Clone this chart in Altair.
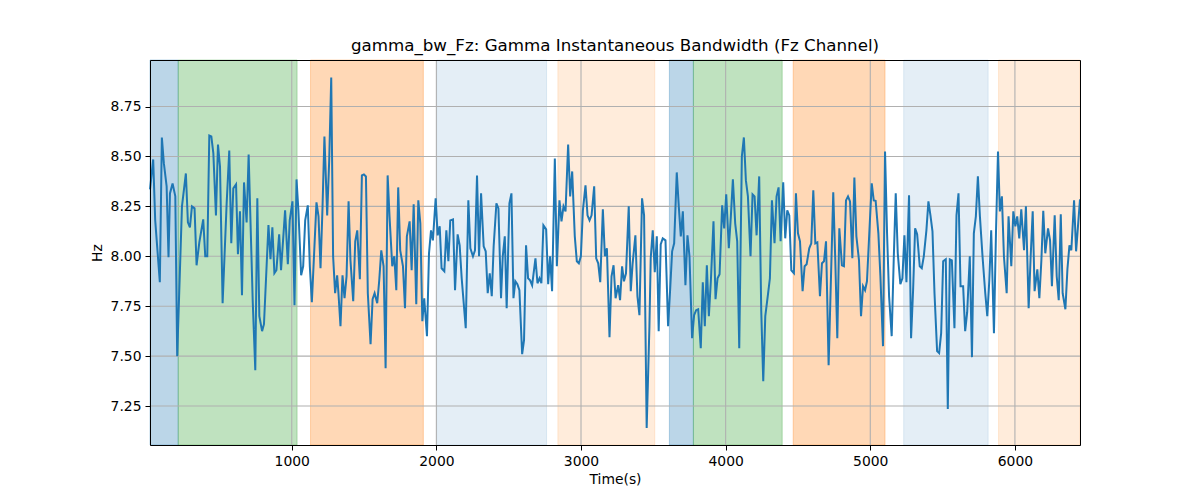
import altair as alt
import pandas as pd

TITLE = "gamma_bw_Fz: Gamma Instantaneous Bandwidth (Fz Channel)"

# (time in s, bandwidth in Hz), in eight stretches
seg_a = [(20, 8.335), (42, 8.485), (56, 8.18), (88, 7.87), (102, 8.595), (116, 8.465), (135, 8.35),
         (148, 7.995), (158, 8.315), (176, 8.365), (195, 8.30), (208, 7.50), (241, 8.25), (268, 8.415),
         (282, 8.17), (296, 8.145), (310, 8.25), (328, 8.24), (342, 7.955), (361, 8.07), (388, 8.185),
         (402, 8.0), (416, 8.0), (430, 8.605), (444, 8.60), (458, 8.515), (476, 8.205), (490, 8.56),
         (504, 8.45), (522, 7.765), (550, 8.265), (568, 8.53), (582, 8.065), (596, 8.34), (615, 8.36),
         (628, 8.01), (642, 8.225), (656, 7.805), (670, 8.37), (688, 8.17), (702, 8.51), (730, 7.78),
         (748, 7.43), (762, 8.29), (776, 7.70), (795, 7.625), (808, 7.66)]
seg_b = [(839, 8.157), (853, 7.985), (866, 8.145), (880, 7.915), (894, 7.93), (913, 8.11), (926, 7.93),
         (940, 8.08), (954, 8.23), (973, 7.96), (986, 8.18), (1005, 8.275), (1019, 7.755), (1033, 8.385),
         (1046, 8.23), (1065, 7.905), (1079, 7.95), (1093, 8.18), (1111, 8.255), (1125, 7.95), (1139, 7.77),
         (1157, 8.05), (1171, 8.27), (1185, 8.20), (1199, 7.94), (1213, 8.25), (1226, 8.60), (1245, 8.205),
         (1259, 8.48), (1273, 8.895), (1286, 8.0), (1300, 7.815), (1314, 7.905), (1323, 7.815), (1337, 7.65),
         (1351, 7.905), (1365, 7.79), (1379, 7.90), (1393, 8.275), (1406, 7.98), (1425, 7.775), (1439, 8.075),
         (1453, 8.13), (1471, 7.885), (1485, 8.405), (1499, 8.41), (1513, 8.40), (1526, 7.815), (1545, 7.56),
         (1559, 7.785), (1573, 7.815), (1591, 7.765), (1605, 7.88), (1619, 8.03)]
seg_c = [(1635, 7.95), (1649, 7.44), (1663, 8.405), (1676, 8.20), (1695, 7.95), (1709, 8.0), (1723, 7.83),
         (1736, 8.345), (1750, 8.03), (1769, 7.95), (1783, 7.74), (1796, 8.10), (1815, 8.175), (1829, 7.93),
         (1843, 8.26), (1861, 7.76), (1875, 8.28), (1889, 8.165), (1903, 7.675), (1916, 7.79), (1935, 7.60),
         (1949, 8.015), (1963, 8.13), (1976, 8.08), (1995, 8.29), (2009, 8.105), (2023, 8.15), (2036, 7.94),
         (2055, 7.925), (2069, 8.13), (2083, 7.975), (2096, 8.18), (2115, 8.185), (2129, 7.83), (2147, 8.11),
         (2161, 8.055), (2175, 7.89), (2203, 7.64), (2221, 8.28), (2235, 8.04), (2253, 8.0), (2267, 8.03),
         (2281, 8.405), (2295, 8.0), (2309, 8.315), (2327, 8.05), (2341, 8.025), (2355, 7.815), (2369, 7.915),
         (2383, 7.80), (2396, 8.05), (2415, 8.265), (2429, 8.24), (2447, 7.79)]
seg_d = [(2459, 8.0), (2473, 8.10), (2486, 7.74), (2505, 8.265), (2519, 8.315), (2533, 7.79), (2546, 7.875),
         (2560, 7.86), (2574, 7.83), (2593, 7.51), (2606, 7.58), (2620, 8.055), (2634, 7.89), (2648, 7.88),
         (2662, 7.855), (2685, 7.99), (2699, 7.865), (2713, 7.89), (2726, 7.865), (2740, 8.155), (2759, 8.135),
         (2773, 7.86), (2786, 8.0), (2800, 7.825), (2819, 8.49), (2833, 7.95), (2851, 8.28), (2865, 8.175),
         (2879, 8.25), (2893, 8.225), (2911, 8.56), (2925, 8.30), (2939, 8.425), (2957, 8.10), (2971, 7.975),
         (2985, 7.965), (2999, 8.0), (3013, 8.23), (3031, 8.355), (3045, 8.205), (3059, 8.18), (3073, 8.205),
         (3091, 8.35), (3105, 7.99), (3119, 7.965), (3133, 7.87), (3151, 8.235), (3165, 8.0), (3179, 8.04),
         (3197, 7.595), (3211, 7.90), (3225, 7.955), (3239, 7.79), (3257, 7.855)]
seg_e = [(3270, 7.78), (3284, 7.95), (3297, 7.875), (3311, 7.915), (3330, 8.25), (3344, 7.825), (3357, 7.965),
         (3376, 8.105), (3390, 7.80), (3404, 7.705), (3422, 8.29), (3436, 8.205), (3454, 7.14), (3473, 7.65),
         (3482, 7.99), (3496, 8.13), (3510, 7.92), (3524, 8.10), (3537, 7.625), (3551, 8.06), (3565, 8.09),
         (3584, 8.08), (3602, 7.65), (3616, 7.83), (3630, 8.025), (3644, 8.065), (3662, 8.42), (3676, 8.25),
         (3690, 8.10), (3704, 8.225), (3722, 7.855), (3736, 8.105), (3750, 8.0), (3768, 7.59), (3782, 7.705),
         (3796, 7.73), (3810, 7.735), (3828, 7.54), (3842, 7.87), (3856, 7.65), (3870, 7.955), (3884, 7.70),
         (3898, 7.88), (3916, 8.175), (3930, 7.785), (3944, 7.89), (3958, 7.91), (3976, 8.255), (3990, 8.14),
         (4004, 8.31), (4022, 8.04), (4036, 8.20), (4050, 8.385), (4066, 8.165)]
seg_f = [(4080, 8.075), (4094, 7.54), (4112, 8.50), (4126, 8.595), (4140, 8.38), (4154, 8.30), (4172, 8.0),
         (4186, 8.31), (4200, 8.30), (4214, 8.105), (4232, 8.40), (4246, 7.73), (4260, 7.375), (4274, 7.70),
         (4292, 7.805), (4306, 7.89), (4320, 8.28), (4338, 8.065), (4352, 8.30), (4366, 8.345), (4380, 8.075),
         (4398, 8.37), (4412, 8.09), (4426, 8.23), (4440, 8.205), (4454, 7.93), (4472, 7.915), (4486, 8.315),
         (4500, 8.115), (4514, 8.075), (4532, 7.825), (4546, 7.95), (4560, 7.96), (4578, 8.04), (4592, 8.065),
         (4606, 8.33), (4620, 8.065), (4634, 8.07), (4652, 7.80), (4666, 7.965), (4680, 7.975), (4694, 8.075),
         (4712, 7.455), (4744, 8.32), (4758, 7.98), (4772, 7.59), (4786, 8.14), (4804, 7.955), (4818, 7.95),
         (4832, 8.28), (4846, 8.30), (4860, 8.275)]
seg_g = [(4876, 7.99), (4890, 8.395), (4904, 8.10), (4922, 7.98), (4936, 7.70), (4950, 7.85), (4964, 7.83),
         (4977, 7.875), (5010, 8.365), (5024, 8.28), (5037, 8.278), (5056, 8.115), (5070, 7.90), (5088, 7.55),
         (5102, 8.525), (5116, 8.115), (5130, 7.80), (5148, 7.60), (5162, 7.98), (5176, 8.315), (5190, 8.015),
         (5208, 7.86), (5222, 7.89), (5236, 8.105), (5250, 7.87), (5268, 8.305), (5282, 7.59), (5296, 7.83),
         (5310, 8.14), (5324, 8.11), (5342, 7.95), (5356, 7.94), (5370, 8.0), (5388, 8.13), (5402, 8.275),
         (5416, 8.205), (5430, 8.125), (5444, 7.815), (5462, 7.525), (5476, 7.515), (5490, 7.615), (5504, 7.975),
         (5522, 7.985), (5536, 7.235), (5550, 7.985), (5564, 7.98), (5582, 7.64), (5596, 8.205), (5610, 8.315),
         (5624, 7.85), (5642, 7.85), (5656, 7.625), (5670, 7.72), (5688, 8.0)]
seg_h = [(5703, 7.495), (5716, 8.115), (5730, 8.20), (5744, 8.40), (5758, 8.20), (5776, 8.0), (5795, 7.815),
         (5809, 7.70), (5823, 7.88), (5836, 8.13), (5855, 7.615), (5869, 8.115), (5883, 8.525), (5896, 8.225),
         (5910, 8.30), (5924, 8.0), (5943, 7.815), (5956, 8.20), (5975, 7.95), (5989, 8.225), (6003, 8.15),
         (6016, 8.20), (6030, 8.09), (6044, 8.235), (6063, 8.03), (6076, 8.25), (6095, 7.74), (6109, 8.0),
         (6123, 8.225), (6136, 7.825), (6155, 7.935), (6169, 7.79), (6183, 7.98), (6196, 8.228), (6210, 8.015),
         (6229, 8.14), (6243, 8.08), (6256, 7.85), (6275, 8.205), (6289, 7.90), (6303, 7.78), (6317, 8.21),
         (6330, 7.815), (6349, 7.735), (6363, 7.935), (6377, 8.055), (6390, 8.03), (6409, 8.28), (6423, 8.025),
         (6450, 8.285)]

# shaded state intervals
band_start = [20, 215, 1130, 2002, 2840, 3611, 3777, 4467, 5231, 5887]
band_end = [215, 1037, 1910, 2762, 3510, 3777, 4391, 5102, 5815, 6450]
band_color = ["#1f77b4", "#2ca02c", "#ff7f0e", "#1f77b4", "#ff7f0e",
              "#1f77b4", "#2ca02c", "#ff7f0e", "#1f77b4", "#ff7f0e"]
band_alpha = [0.3, 0.3, 0.3, 0.12, 0.15, 0.3, 0.3, 0.3, 0.12, 0.15]

x_ticks = [1000, 2000, 3000, 4000, 5000, 6000]
y_ticks = [7.25, 7.50, 7.75, 8.00, 8.25, 8.50, 8.75]
x_domain = [20, 6450]
y_domain = [7.055, 8.983]

points = seg_a + seg_b + seg_c + seg_d + seg_e + seg_f + seg_g + seg_h
line_df = pd.DataFrame(points, columns=["t", "hz"])
band_df = pd.DataFrame({"t": band_start, "t2": band_end, "c": band_color, "a": band_alpha})
xgrid_df = pd.DataFrame({"t": x_ticks})
ygrid_df = pd.DataFrame({"hz": y_ticks})
frame_df = pd.DataFrame({"t": x_domain, "hz": y_domain})

FONT = "DejaVu Sans"
xscale = alt.Scale(domain=x_domain, nice=False, zero=False)
yscale = alt.Scale(domain=y_domain, nice=False, zero=False)
common_axis = dict(grid=False, tickSize=5, tickColor="black", tickWidth=1,
                   domainColor="black", domainWidth=1,
                   labelFont=FONT, labelFontSize=13.9, labelColor="black",
                   titleFont=FONT, titleFontSize=13.9, titleFontWeight="normal",
                   titleColor="black", labelPadding=4, zindex=1, labelFlush=False)
x_axis = alt.Axis(values=x_ticks, title="Time(s)", format="d", titlePadding=5, **common_axis)
y_axis = alt.Axis(values=y_ticks, title="Hz", format=".2f", titlePadding=6, **common_axis)
frame_axis = dict(grid=False, labels=False, ticks=False, title=None,
                  domainColor="black", domainWidth=1, zindex=1)
top_axis = alt.Axis(orient="top", **frame_axis)
right_axis = alt.Axis(orient="right", **frame_axis)

bands = alt.Chart(band_df).mark_rect(strokeWidth=1).encode(
    x=alt.X("t:Q", scale=xscale, axis=None), x2="t2:Q",
    color=alt.Color("c:N", scale=None),
    stroke=alt.Stroke("c:N", scale=None),
    fillOpacity=alt.FillOpacity("a:Q", scale=None),
    strokeOpacity=alt.StrokeOpacity("a:Q", scale=None),
)
vgrid = alt.Chart(xgrid_df).mark_rule(color="#b0b0b0", strokeWidth=1.1).encode(
    x=alt.X("t:Q", scale=xscale, axis=None))
hgrid = alt.Chart(ygrid_df).mark_rule(color="#b0b0b0", strokeWidth=1.1).encode(
    y=alt.Y("hz:Q", scale=yscale, axis=None))
line = alt.Chart(line_df).mark_line(color="#1f77b4", strokeWidth=2).encode(
    x=alt.X("t:Q", scale=xscale, axis=x_axis),
    y=alt.Y("hz:Q", scale=yscale, axis=y_axis))
frame = alt.Chart(frame_df).mark_point(opacity=0).encode(
    x=alt.X("t:Q", scale=xscale, axis=top_axis),
    y=alt.Y("hz:Q", scale=yscale, axis=right_axis))

chart = alt.layer(bands, vgrid, hgrid, line, frame).resolve_axis(
    x="independent", y="independent"
).properties(
    width=930, height=385,
    autosize=alt.AutoSizeParams(type="none"),
    padding={"left": 142, "top": 52, "right": 112, "bottom": 47},
    title=alt.TitleParams(TITLE, font=FONT, fontSize=16.7, fontWeight="normal",
                          color="black", offset=3, anchor="middle"),
).configure_view(stroke="black", strokeWidth=1).configure(background="white")

chart.save("out.html", embed_options={"renderer": "svg", "actions": False})
